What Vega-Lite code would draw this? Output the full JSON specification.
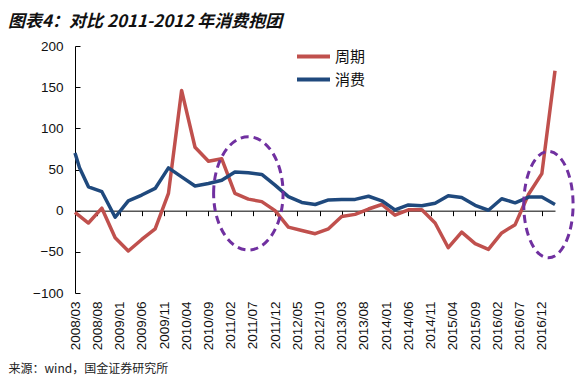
{
  "$schema": "https://vega.github.io/schema/vega-lite/v6.json",
  "width": 480,
  "height": 247,
  "autosize": {"type": "none"},
  "padding": {"left": 75, "top": 46, "right": 33, "bottom": 83},
  "background": "#ffffff",
  "config": {"view": {"stroke": null}},
  "title": {
    "text": "图表4：对比 2011-2012 年消费抱团",
    "anchor": "start",
    "frame": "group",
    "dx": -67,
    "dy": 6,
    "offset": 1,
    "baseline": "alphabetic",
    "font": "Noto Sans CJK SC",
    "fontSize": 17,
    "fontWeight": "bold",
    "fontStyle": "italic",
    "color": "#111111"
  },
  "datasets": {
    "series": [
      {"date": "2008-03-01", "series": "周期", "value": -2},
      {"date": "2008-06-01", "series": "周期", "value": -15},
      {"date": "2008-09-01", "series": "周期", "value": 3},
      {"date": "2008-12-01", "series": "周期", "value": -33},
      {"date": "2009-03-01", "series": "周期", "value": -49},
      {"date": "2009-06-01", "series": "周期", "value": -35},
      {"date": "2009-09-01", "series": "周期", "value": -22},
      {"date": "2009-12-01", "series": "周期", "value": 21},
      {"date": "2010-03-01", "series": "周期", "value": 146},
      {"date": "2010-06-01", "series": "周期", "value": 77},
      {"date": "2010-09-01", "series": "周期", "value": 60},
      {"date": "2010-12-01", "series": "周期", "value": 63},
      {"date": "2011-03-01", "series": "周期", "value": 21},
      {"date": "2011-06-01", "series": "周期", "value": 14},
      {"date": "2011-09-01", "series": "周期", "value": 11},
      {"date": "2011-12-01", "series": "周期", "value": 0},
      {"date": "2012-03-01", "series": "周期", "value": -20},
      {"date": "2012-06-01", "series": "周期", "value": -24},
      {"date": "2012-09-01", "series": "周期", "value": -28},
      {"date": "2012-12-01", "series": "周期", "value": -22},
      {"date": "2013-03-01", "series": "周期", "value": -7},
      {"date": "2013-06-01", "series": "周期", "value": -4.5},
      {"date": "2013-09-01", "series": "周期", "value": 2},
      {"date": "2013-12-01", "series": "周期", "value": 7.5},
      {"date": "2014-03-01", "series": "周期", "value": -5.5},
      {"date": "2014-06-01", "series": "周期", "value": 1},
      {"date": "2014-09-01", "series": "周期", "value": 1},
      {"date": "2014-12-01", "series": "周期", "value": -15},
      {"date": "2015-03-01", "series": "周期", "value": -45},
      {"date": "2015-06-01", "series": "周期", "value": -26},
      {"date": "2015-09-01", "series": "周期", "value": -40},
      {"date": "2015-12-01", "series": "周期", "value": -47},
      {"date": "2016-03-01", "series": "周期", "value": -27},
      {"date": "2016-06-01", "series": "周期", "value": -17},
      {"date": "2016-09-01", "series": "周期", "value": 20},
      {"date": "2016-12-01", "series": "周期", "value": 45},
      {"date": "2017-03-01", "series": "周期", "value": 170},
      {"date": "2008-03-01", "series": "消费", "value": 70},
      {"date": "2008-04-01", "series": "消费", "value": 52},
      {"date": "2008-06-01", "series": "消费", "value": 29},
      {"date": "2008-09-01", "series": "消费", "value": 23},
      {"date": "2008-12-01", "series": "消费", "value": -8},
      {"date": "2009-03-01", "series": "消费", "value": 12},
      {"date": "2009-06-01", "series": "消费", "value": 19},
      {"date": "2009-09-01", "series": "消费", "value": 27},
      {"date": "2009-12-01", "series": "消费", "value": 52},
      {"date": "2010-03-01", "series": "消费", "value": 41},
      {"date": "2010-06-01", "series": "消费", "value": 30},
      {"date": "2010-09-01", "series": "消费", "value": 33},
      {"date": "2010-12-01", "series": "消费", "value": 37},
      {"date": "2011-03-01", "series": "消费", "value": 47},
      {"date": "2011-06-01", "series": "消费", "value": 46},
      {"date": "2011-09-01", "series": "消费", "value": 44},
      {"date": "2011-12-01", "series": "消费", "value": 31},
      {"date": "2012-03-01", "series": "消费", "value": 17},
      {"date": "2012-06-01", "series": "消费", "value": 10},
      {"date": "2012-09-01", "series": "消费", "value": 7.5},
      {"date": "2012-12-01", "series": "消费", "value": 13},
      {"date": "2013-03-01", "series": "消费", "value": 13.5},
      {"date": "2013-06-01", "series": "消费", "value": 13.7},
      {"date": "2013-09-01", "series": "消费", "value": 17.5},
      {"date": "2013-12-01", "series": "消费", "value": 12},
      {"date": "2014-03-01", "series": "消费", "value": 1},
      {"date": "2014-06-01", "series": "消费", "value": 7},
      {"date": "2014-09-01", "series": "消费", "value": 6},
      {"date": "2014-12-01", "series": "消费", "value": 9},
      {"date": "2015-03-01", "series": "消费", "value": 18},
      {"date": "2015-06-01", "series": "消费", "value": 16},
      {"date": "2015-09-01", "series": "消费", "value": 6.5},
      {"date": "2015-12-01", "series": "消费", "value": 0.5},
      {"date": "2016-03-01", "series": "消费", "value": 14.5},
      {"date": "2016-06-01", "series": "消费", "value": 9.5},
      {"date": "2016-09-01", "series": "消费", "value": 16.5},
      {"date": "2016-12-01", "series": "消费", "value": 16.5},
      {"date": "2017-03-01", "series": "消费", "value": 7.5}
    ]
  },
  "resolve": {"axis": {"x": "independent"}},
  "layer": [
    {
      "data": {"name": "series"},
      "mark": {"type": "line", "strokeWidth": 3.5, "strokeJoin": "round"},
      "encoding": {
        "x": {
          "field": "date",
          "type": "temporal",
          "scale": {"type": "utc", "domain": [{"year": 2008, "month": 3, "date": 1, "utc": true}, {"year": 2017, "month": 3, "date": 1, "utc": true}]},
          "axis": {
            "orient": "bottom",
            "offset": -82.33,
            "labels": false,
            "title": null,
            "grid": false,
            "domain": true,
            "domainColor": "#000000",
            "domainWidth": 1,
            "ticks": true,
            "tickSize": 5,
            "tickColor": "#000000",
            "values": [
              {"year": 2008, "month": 3, "date": 1, "utc": true},
              {"year": 2008, "month": 8, "date": 1, "utc": true},
              {"year": 2009, "month": 1, "date": 1, "utc": true},
              {"year": 2009, "month": 6, "date": 1, "utc": true},
              {"year": 2009, "month": 11, "date": 1, "utc": true},
              {"year": 2010, "month": 4, "date": 1, "utc": true},
              {"year": 2010, "month": 9, "date": 1, "utc": true},
              {"year": 2011, "month": 2, "date": 1, "utc": true},
              {"year": 2011, "month": 7, "date": 1, "utc": true},
              {"year": 2011, "month": 12, "date": 1, "utc": true},
              {"year": 2012, "month": 5, "date": 1, "utc": true},
              {"year": 2012, "month": 10, "date": 1, "utc": true},
              {"year": 2013, "month": 3, "date": 1, "utc": true},
              {"year": 2013, "month": 8, "date": 1, "utc": true},
              {"year": 2014, "month": 1, "date": 1, "utc": true},
              {"year": 2014, "month": 6, "date": 1, "utc": true},
              {"year": 2014, "month": 11, "date": 1, "utc": true},
              {"year": 2015, "month": 4, "date": 1, "utc": true},
              {"year": 2015, "month": 9, "date": 1, "utc": true},
              {"year": 2016, "month": 2, "date": 1, "utc": true},
              {"year": 2016, "month": 7, "date": 1, "utc": true},
              {"year": 2016, "month": 12, "date": 1, "utc": true}
            ]
          }
        },
        "y": {
          "field": "value",
          "type": "quantitative",
          "scale": {"domain": [-100, 200], "nice": false, "zero": false},
          "axis": {
            "orient": "left",
            "title": null,
            "grid": false,
            "values": [-100, -50, 0, 50, 100, 150, 200],
            "domain": true,
            "domainColor": "#000000",
            "domainWidth": 1,
            "ticks": true,
            "tickColor": "#000000",
            "tickSize": -5,
            "labelPadding": 17,
            "labelFont": "Liberation Sans",
            "labelFontSize": 13.5,
            "labelColor": "#111111"
          }
        },
        "color": {
          "field": "series",
          "type": "nominal",
          "scale": {"domain": ["周期", "消费"], "range": ["#C0504D", "#1F497D"]},
          "legend": {
            "title": null,
            "orient": "none",
            "legendX": 231,
            "legendY": 3,
            "symbolType": "M -3,0 L 3,0",
            "symbolSize": 121,
            "symbolStrokeWidth": 4,
            "labelOffset": 14,
            "rowPadding": 6,
            "labelFont": "Noto Sans CJK SC",
            "labelFontSize": 15,
            "labelColor": "#111111"
          }
        }
      }
    },
    {
      "data": {"values": [{"date": "2011-06-01", "value": 21}]},
      "mark": {"type": "point", "shape": "M -0.613,0 A 0.613,1 0 1,1 0.613,0 A 0.613,1 0 1,1 -0.613,0 Z", "size": 12840, "filled": false, "stroke": "#7030A0", "strokeWidth": 3, "strokeDash": [8, 5], "opacity": 1},
      "encoding": {
        "x": {
          "field": "date",
          "type": "temporal",
          "axis": {
            "orient": "bottom",
            "domain": false,
            "ticks": false,
            "grid": false,
            "labelAngle": 270,
            "labelPadding": 8,
            "labelExpr": "utcFormat(datum.value, '%Y/%m')",
            "labelFont": "Liberation Sans",
            "labelFontSize": 13.5,
            "labelColor": "#111111",
            "labelOverlap": false,
            "labelFlush": false,
            "values": [
              {"year": 2008, "month": 3, "date": 1, "utc": true},
              {"year": 2008, "month": 8, "date": 1, "utc": true},
              {"year": 2009, "month": 1, "date": 1, "utc": true},
              {"year": 2009, "month": 6, "date": 1, "utc": true},
              {"year": 2009, "month": 11, "date": 1, "utc": true},
              {"year": 2010, "month": 4, "date": 1, "utc": true},
              {"year": 2010, "month": 9, "date": 1, "utc": true},
              {"year": 2011, "month": 2, "date": 1, "utc": true},
              {"year": 2011, "month": 7, "date": 1, "utc": true},
              {"year": 2011, "month": 12, "date": 1, "utc": true},
              {"year": 2012, "month": 5, "date": 1, "utc": true},
              {"year": 2012, "month": 10, "date": 1, "utc": true},
              {"year": 2013, "month": 3, "date": 1, "utc": true},
              {"year": 2013, "month": 8, "date": 1, "utc": true},
              {"year": 2014, "month": 1, "date": 1, "utc": true},
              {"year": 2014, "month": 6, "date": 1, "utc": true},
              {"year": 2014, "month": 11, "date": 1, "utc": true},
              {"year": 2015, "month": 4, "date": 1, "utc": true},
              {"year": 2015, "month": 9, "date": 1, "utc": true},
              {"year": 2016, "month": 2, "date": 1, "utc": true},
              {"year": 2016, "month": 7, "date": 1, "utc": true},
              {"year": 2016, "month": 12, "date": 1, "utc": true}
            ],
            "title": "来源：wind，国金证券研究所",
            "titleAnchor": "start",
            "titleX": -67,
            "titleY": 79,
            "titleBaseline": "alphabetic",
            "titleFont": "Noto Sans CJK SC",
            "titleFontSize": 12,
            "titleFontWeight": "normal",
            "titleColor": "#222222"
          }
        },
        "y": {"field": "value", "type": "quantitative"}
      }
    },
    {
      "data": {"values": [{"date": "2017-01-15", "value": 7.4}]},
      "mark": {"type": "point", "shape": "M -0.464,0 A 0.464,1 0 1,1 0.464,0 A 0.464,1 0 1,1 -0.464,0 Z", "size": 11300, "filled": false, "stroke": "#7030A0", "strokeWidth": 3, "strokeDash": [8, 5], "opacity": 1},
      "encoding": {
        "x": {"field": "date", "type": "temporal", "axis": null},
        "y": {"field": "value", "type": "quantitative"}
      }
    }
  ]
}
